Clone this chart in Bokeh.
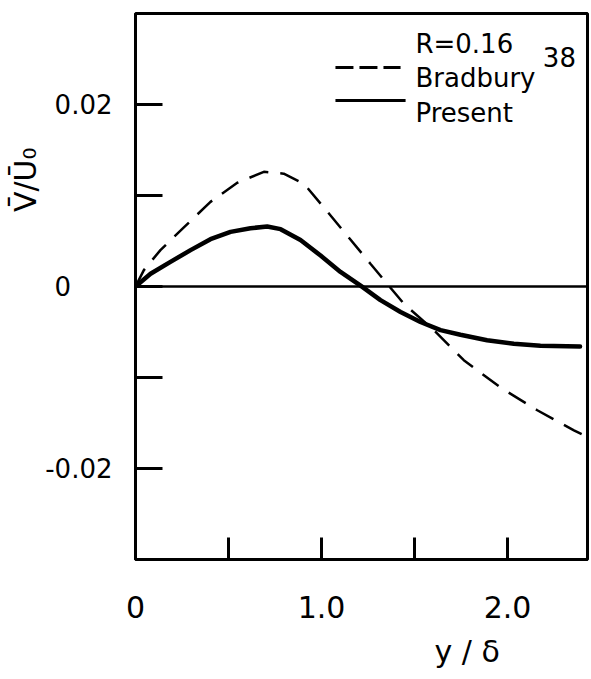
from bokeh.plotting import figure
from bokeh.models import Range1d, FixedTicker, Span, Label, Title
from bokeh.embed import file_html
from bokeh.resources import INLINE

# ---- data ----
present_x = [0.0, 0.081, 0.188, 0.296, 0.403, 0.511, 0.618, 0.708, 0.78, 0.887, 0.995, 1.102,
             1.21, 1.317, 1.425, 1.532, 1.64, 1.747, 1.89, 2.034, 2.177, 2.39]
present_y = [0.0, 0.0014, 0.0027, 0.0040, 0.0052, 0.0060, 0.0064, 0.0066, 0.0063, 0.0051, 0.0034, 0.0016,
             0.0001, -0.0015, -0.0028, -0.0039, -0.0048, -0.0053, -0.0059, -0.0063, -0.0065, -0.0066]

bradbury_x = [0.0, 0.045, 0.134, 0.26, 0.403, 0.547, 0.69, 0.797, 0.905, 1.012, 1.138, 1.263,
              1.443, 1.604, 1.765, 1.962, 2.16, 2.357, 2.446]
bradbury_y = [0.0, 0.0018, 0.0040, 0.0065, 0.0093, 0.0114, 0.0126, 0.0124, 0.0113, 0.0087, 0.0056, 0.0025,
              -0.0019, -0.0048, -0.0081, -0.0111, -0.0136, -0.0158, -0.0167]

x_ticks = [0.0, 0.5, 1.0, 1.5, 2.0]
x_tick_labels = ["0", "", "1.0", "", "2.0"]
y_ticks = [-0.02, -0.01, 0.0, 0.01, 0.02]
y_tick_labels = ["-0.02", "", "0\u2008\u2007\u2007", "", "0.02"]

FONT = "DejaVu Sans"

p = figure(width=591, height=679, x_range=Range1d(0, 2.43), y_range=Range1d(-0.03, 0.03),
           output_backend="svg", toolbar_location=None,
           min_border_left=135, min_border_right=4, min_border_top=13, min_border_bottom=120)
p.grid.visible = False
p.background_fill_color = "white"
p.border_fill_color = "white"
p.outline_line_color = "black"
p.outline_line_width = 3

p.xaxis.ticker = FixedTicker(ticks=x_ticks, minor_ticks=[])
p.xaxis.major_label_overrides = dict(zip(x_ticks, x_tick_labels))
p.yaxis.ticker = FixedTicker(ticks=y_ticks, minor_ticks=[])
p.yaxis.major_label_overrides = dict(zip(y_ticks, y_tick_labels))

for ax in (p.xaxis, p.yaxis):
    ax.axis_line_width = 3
    ax.axis_line_color = "black"
    ax.major_tick_line_width = 3
    ax.major_tick_line_color = "black"
    ax.major_tick_out = 0
    ax.minor_tick_line_color = None
    ax.major_label_text_font = FONT
    ax.major_label_text_color = "black"
    ax.major_label_text_font_style = "normal"

p.xaxis.major_tick_in = 22
p.xaxis.major_label_text_font_size = "30px"
p.xaxis.major_label_standoff = 36
p.yaxis.major_tick_in = 27
p.yaxis.major_label_text_font_size = "26px"
p.yaxis.major_label_standoff = 23

# zero line
p.add_layout(Span(location=0, dimension="width", line_color="black", line_width=2.5))

# curves
p.line(bradbury_x, bradbury_y, line_color="black", line_width=2.5, line_dash="20 12")
p.line(present_x, present_y, line_color="black", line_width=4.5, line_cap="round", line_join="round")

# legend (drawn by hand)
p.line([1.075, 1.425], [0.02407, 0.02407], line_color="black", line_width=3, line_dash="18 6")
p.line([1.075, 1.452], [0.02044, 0.02044], line_color="black", line_width=3)
leg = dict(text_font=FONT, text_font_size="26px", text_color="black", text_baseline="alphabetic")
p.add_layout(Label(x=1.505, y=0.0267, text="R=0.16", **leg))
p.add_layout(Label(x=1.505, y=0.02286, text="Bradbury", **leg))
p.add_layout(Label(x=2.19, y=0.02527, text="38", **leg))
p.add_layout(Label(x=1.505, y=0.01912, text="Present", **leg))

# axis titles
p.add_layout(Title(text="y / \u03b4", align="left", offset=299, standoff=22,
                   text_font=FONT, text_font_size="30px", text_font_style="normal",
                   text_color="black"), "below")
p.add_layout(Title(text="V\u0304/U\u0304\u2080", align="right", offset=134, standoff=0,
                   text_font=FONT, text_font_size="30px", text_font_style="normal",
                   text_color="black"), "left")

open("out.html", "w").write(file_html(p, INLINE))
